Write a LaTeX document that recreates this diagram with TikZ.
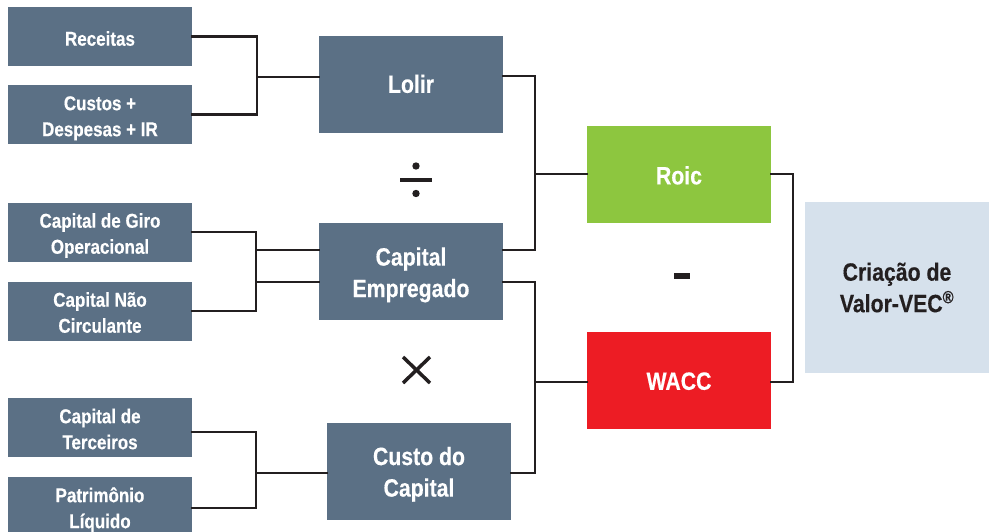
\documentclass[tikz,border=0pt]{standalone}
\usepackage{fontspec}
\setmainfont{Liberation Sans}[FakeStretch=0.85,BoldFeatures={FakeBold=0.4}]
\definecolor{slate}{RGB}{91,112,133}
\definecolor{roicgreen}{RGB}{141,198,63}
\definecolor{waccred}{RGB}{237,28,36}
\definecolor{vecbg}{RGB}{214,225,236}
\definecolor{ink}{RGB}{35,31,32}
\newcommand\smallfont{\fontsize{20}{26}\selectfont\bfseries}
\newcommand\bigfont{\fontsize{25}{31.5}\selectfont\bfseries}
\newcommand\lowtext[2][3.5pt]{\raisebox{-#1}[\height][\depth]{\begin{tabular}{@{}c@{}}#2\end{tabular}}}
\begin{document}
\begin{tikzpicture}[x=1pt,y=-1pt,
  inbox/.style={fill=slate,text=white,minimum width=184pt,minimum height=59pt,inner sep=0pt,font=\smallfont},
  midbox/.style={fill=slate,text=white,minimum width=184pt,minimum height=97pt,inner sep=0pt,font=\bigfont},
  link/.style={draw=ink,line width=2.5pt,line cap=rect},
  opmark/.style={ink}]
\useasboundingbox (0,0) rectangle (989,531);
% input boxes
\node[inbox] (rec) at (100,36.5) {\lowtext[4pt]{Receitas}};
\node[inbox] (cust) at (100,114.5) {\lowtext{Custos +\\Despesas + IR}};
\node[inbox] (giro) at (100,232) {\lowtext{Capital de Giro\\Operacional}};
\node[inbox] (ncirc) at (100,311) {\lowtext{Capital Não\\Circulante}};
\node[inbox] (terc) at (100,427.5) {\lowtext{Capital de\\Terceiros}};
\node[inbox] (patr) at (100,506.5) {\lowtext{Patrimônio\\Líquido}};
% middle boxes
\node[midbox] (lolir) at (411,84) {\lowtext[2.5pt]{Lolir}};
\node[midbox] (cemp) at (411,271.5) {\lowtext{Capital\\Empregado}};
\node[midbox] (custo) at (419,471.5) {\lowtext[3pt]{Custo do\\Capital}};
% right boxes
\node[midbox,fill=roicgreen] (roic) at (679,174) {\lowtext[4pt]{Roic}};
\node[midbox,fill=waccred] (wacc) at (679,380.5) {\lowtext[3pt]{WACC}};
\node[fill=vecbg,text=ink,minimum width=184pt,minimum height=171pt,inner sep=0pt,align=center,font=\bigfont] (vec) at (897,287.5) {Criação de\\Valor-VEC\textsuperscript{®}};
% junction points
\coordinate (j1) at (257,77);
\coordinate (j2) at (256,250);
\coordinate (j3) at (256,282);
\coordinate (j4) at (256,473);
\coordinate (j5) at (535,174);
\coordinate (j6) at (535,382);
% connectors
\draw[link] (rec.east) -| (j1) |- (cust.east);
\draw[link] (j1) -- (lolir.west |- j1);
\draw[link] (giro.east) -| (j2) -- (j3) |- (ncirc.east);
\draw[link] (j2) -- (cemp.west |- j2);
\draw[link] (j3) -- (cemp.west |- j3);
\draw[link] (terc.east |- 0,432) -| (j4) |- (patr.east |- 0,508);
\draw[link] (j4) -- (custo.west |- j4);
\draw[link] (lolir.east |- 0,76) -| (j5) |- (cemp.east |- 0,250);
\draw[link] (j5) -- (roic.west |- j5);
\draw[link] (cemp.east |- 0,282) -| (j6) |- (custo.east |- 0,473);
\draw[link] (j6) -- (wacc.west |- j6);
\draw[link] (roic.east) -| (793,278) |- (wacc.east |- 0,382);
% operators
\fill[opmark] (416,166) circle (3.7);
\fill[opmark] (416,193.5) circle (3.7);
\fill[opmark] (400,178) rectangle (432,182);
\draw[opmark,line width=3.5pt] (403,357) -- (430,383);
\draw[opmark,line width=3.5pt] (430,357) -- (403,383);
\fill[opmark] (674,273) rectangle (690,278.5);
\end{tikzpicture}
\end{document}
